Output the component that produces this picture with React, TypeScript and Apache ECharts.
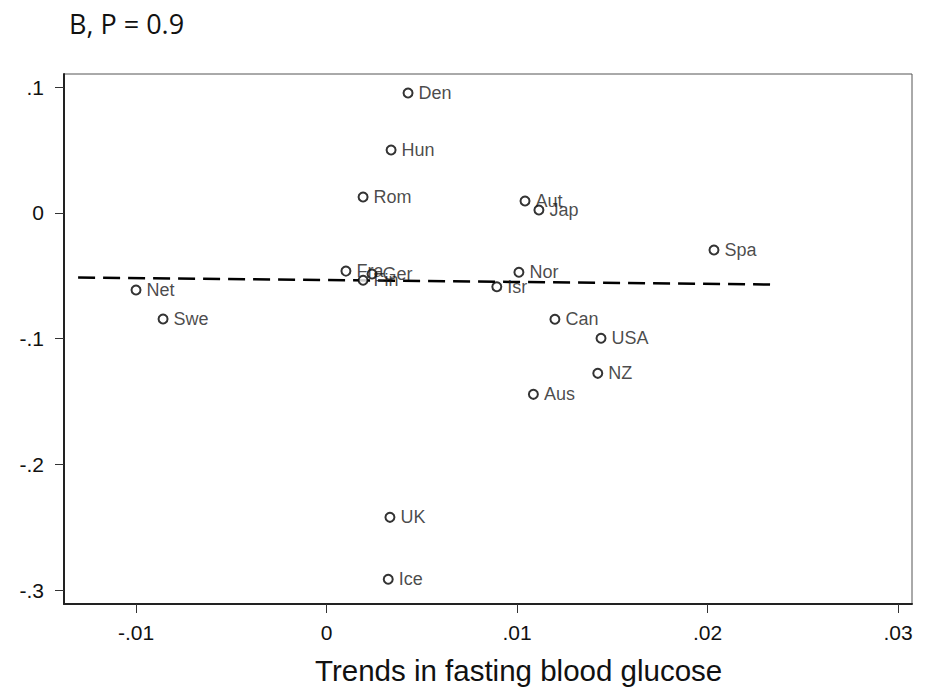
import React, { useEffect, useRef } from "react";
import * as echarts from "echarts";

const countries = ["Den", "Hun", "Rom", "Aut", "Jap", "Spa", "Fra", "Ger", "Fin", "Nor", "Isr", "Net", "Swe", "Can", "USA", "NZ", "Aus", "UK", "Ice"];
const xValues = [0.00428, 0.00339, 0.00192, 0.01042, 0.01115, 0.02034, 0.00102, 0.00239, 0.00192, 0.0101, 0.00894, -0.01, -0.00858, 0.01199, 0.01441, 0.01424, 0.01086, 0.00333, 0.00324];
const yValues = [0.0952, 0.0499, 0.0125, 0.0093, 0.0022, -0.0296, -0.0464, -0.0487, -0.0537, -0.0473, -0.0588, -0.0614, -0.0845, -0.0847, -0.0998, -0.1277, -0.1444, -0.2422, -0.2915];
const fitLineX = [-0.01304, 0.02339];
const fitLineY = [-0.0515, -0.0571];
const xTicks = [-0.01, 0, 0.01, 0.02, 0.03];
const yTicks = [-0.3, -0.2, -0.1, 0, 0.1];
const xRange = [-0.01378, 0.030735];
const yRange = [-0.31113, 0.11034];
const titleText = "B, P = 0.9";
const xAxisTitle = "Trends in fasting blood glucose";

const fmt = (v: number) => {
  const r = Math.round(v * 10000) / 10000;
  if (r === 0) return "0";
  const s = String(Math.abs(r)).replace(/^0/, "");
  return (r < 0 ? "-" : "") + s;
};

export default function App() {
  const ref = useRef<HTMLDivElement>(null);
  useEffect(() => {
    if (!ref.current) return;
    const chart = echarts.init(ref.current, null, { renderer: "svg" });
    const font = "Arial, 'Liberation Sans', sans-serif";
    chart.setOption({
      animation: false,
      backgroundColor: "#ffffff",
      title: {
        text: titleText,
        left: 64,
        top: 5,
        textStyle: { fontFamily: "'Open Sans', 'Noto Sans', sans-serif", fontSize: 27, fontWeight: "normal", color: "#111" },
      },
      graphic: [
        {
          type: "text",
          left: 315,
          top: 655,
          style: { text: xAxisTitle, fontSize: 29.5, fontFamily: font, fill: "#111" },
        },
      ],
      grid: { left: 64, right: 25, top: 74, bottom: 90, show: true, borderColor: "#555", borderWidth: 1, containLabel: false },
      xAxis: {
        type: "value",
        min: xRange[0],
        max: xRange[1],
        splitLine: { show: false },
        axisLine: { show: true, onZero: false, lineStyle: { color: "#222", width: 2 } },
        axisTick: { show: true, length: 9, customValues: xTicks, lineStyle: { color: "#333", width: 1 } },
        axisLabel: { customValues: xTicks, formatter: fmt, margin: 18, fontSize: 21, fontFamily: font, color: "#111" },
      },
      yAxis: {
        type: "value",
        min: yRange[0],
        max: yRange[1],
        splitLine: { show: false },
        axisLine: { show: true, onZero: false, lineStyle: { color: "#222", width: 2 } },
        axisTick: { show: true, length: 9, customValues: yTicks, lineStyle: { color: "#333", width: 1 } },
        axisLabel: { customValues: yTicks, formatter: fmt, margin: 20, fontSize: 21, fontFamily: font, color: "#111" },
      },
      series: [
        {
          type: "line",
          data: fitLineX.map((x, i) => [x, fitLineY[i]]),
          symbol: "none",
          lineStyle: { color: "#000", width: 2.5, type: [17, 8] },
          z: 1,
        },
        {
          type: "scatter",
          data: xValues.map((x, i) => ({ value: [x, yValues[i]], name: countries[i] })),
          symbol: "circle",
          symbolSize: 9,
          itemStyle: { color: "#fff", borderColor: "#000", borderWidth: 2 },
          label: {
            show: true,
            position: "right",
            distance: 5,
            formatter: (p: any) => p.name,
            fontSize: 18,
            fontFamily: font,
            color: "#1a1a1a",
          },
          z: 3,
        },
      ],
    });
    return () => chart.dispose();
  }, []);
  return <div ref={ref} style={{ position: "absolute", left: 0, top: 0, width: 937, height: 694 }} />;
}
